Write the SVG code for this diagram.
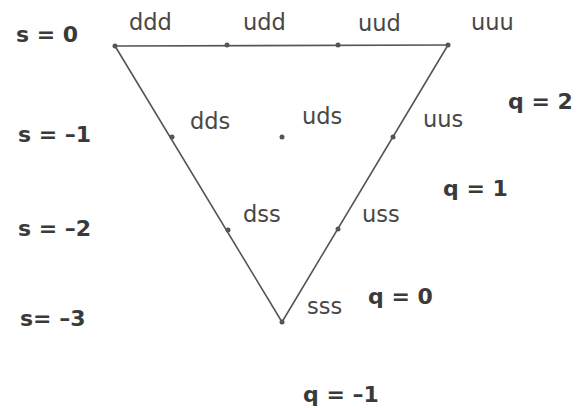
<svg xmlns="http://www.w3.org/2000/svg" width="578" height="408" viewBox="0 0 578 408">
<style>
.lbl{font-family:"DejaVu Sans",sans-serif;font-size:22.5px;fill:#474747}
.ax{font-family:"DejaVu Sans",sans-serif;font-size:22px;font-weight:bold;fill:#3a3a3a}
.edge{stroke:#555;stroke-width:1.6;fill:none;stroke-linecap:round}
.dot{fill:#555}
</style>
<rect width="578" height="408" fill="#fff"/>
<g id="connectors">
<line class="edge" x1="115" y1="46" x2="448" y2="45"/>
<line class="edge" x1="115" y1="46" x2="282" y2="322"/>
<line class="edge" x1="448" y1="45" x2="282" y2="322"/>
</g>
<g id="ddd"><circle class="dot" cx="115" cy="46" r="2.5"/><text class="lbl" x="129" y="30">ddd</text></g>
<g id="udd"><circle class="dot" cx="227" cy="45" r="2.5"/><text class="lbl" x="243" y="30">udd</text></g>
<g id="uud"><circle class="dot" cx="338" cy="45" r="2.5"/><text class="lbl" x="358" y="31">uud</text></g>
<g id="uuu"><circle class="dot" cx="448" cy="45" r="2.5"/><text class="lbl" x="471" y="30">uuu</text></g>
<g id="dds"><circle class="dot" cx="172" cy="137" r="2.5"/><text class="lbl" x="190" y="129">dds</text></g>
<g id="uds"><circle class="dot" cx="282" cy="137" r="2.5"/><text class="lbl" x="302" y="124">uds</text></g>
<g id="uus"><circle class="dot" cx="393" cy="137" r="2.5"/><text class="lbl" x="423" y="127">uus</text></g>
<g id="dss"><circle class="dot" cx="228" cy="230" r="2.5"/><text class="lbl" x="243" y="222">dss</text></g>
<g id="uss"><circle class="dot" cx="338" cy="229" r="2.5"/><text class="lbl" x="362" y="222">uss</text></g>
<g id="sss"><circle class="dot" cx="282" cy="322" r="2.5"/><text class="lbl" x="307" y="314">sss</text></g>
<g id="s-labels">
<text class="ax" x="16" y="42">s = 0</text>
<text class="ax" x="18" y="142">s = –1</text>
<text class="ax" x="18" y="236">s = –2</text>
<text class="ax" x="20" y="326">s= –3</text>
</g>
<g id="q-labels">
<text class="ax" x="508" y="109">q = 2</text>
<text class="ax" x="443" y="196">q = 1</text>
<text class="ax" x="368" y="304">q = 0</text>
<text class="ax" x="303" y="402">q = –1</text>
</g>
</svg>
